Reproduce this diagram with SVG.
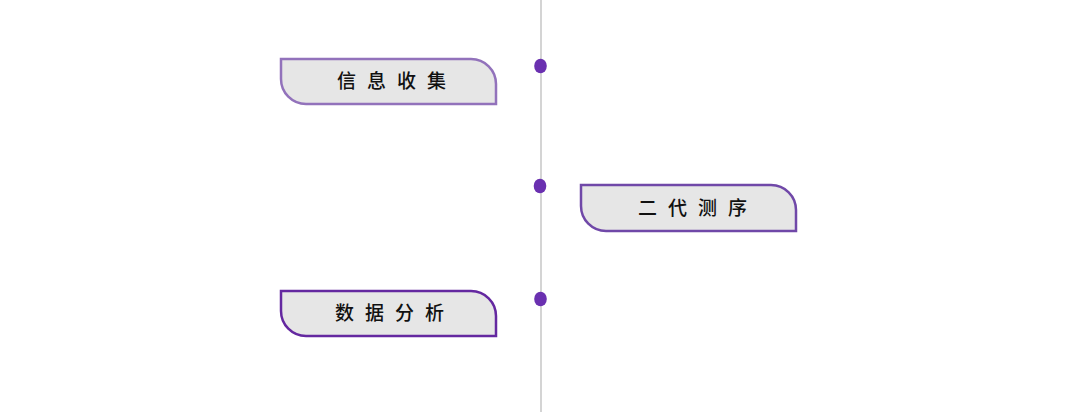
<svg xmlns="http://www.w3.org/2000/svg" width="1080" height="412" viewBox="0 0 1080 412">
<style>
.box{fill:#e6e6e6;stroke-width:2.5}
.lbl{font-family:"Noto Sans CJK SC","Noto Sans",sans-serif;font-size:19px;font-weight:500;fill:#111;letter-spacing:11px}
.dot{fill:#6a30b0}
</style>
<rect width="1080" height="412" fill="#ffffff"/>
<g id="connectors">
<line x1="541" y1="0" x2="541" y2="412" stroke="#d4d4d4" stroke-width="2"/>
</g>
<g id="dot1"><ellipse class="dot" cx="540.5" cy="66" rx="6.3" ry="7.3"/></g>
<g id="dot2"><ellipse class="dot" cx="540" cy="186" rx="6.3" ry="7.3"/></g>
<g id="dot3"><ellipse class="dot" cx="540.5" cy="299" rx="6.3" ry="7.3"/></g>
<g id="node1">
<path class="box" stroke="#9272bb" d="M281,59 H471 A25,25 0 0 1 496,84 V104 H306 A25,25 0 0 1 281,79 Z"/>
<text class="lbl" x="337" y="88">信息收集</text>
</g>
<g id="node2">
<path class="box" stroke="#7048a8" d="M581,185 H771 A25,25 0 0 1 796,210 V231 H606 A25,25 0 0 1 581,206 Z"/>
<text class="lbl" x="638" y="215">二代测序</text>
</g>
<g id="node3">
<path class="box" stroke="#6428a0" d="M281,291 H471 A25,25 0 0 1 496,316 V336 H306 A25,25 0 0 1 281,311 Z"/>
<text class="lbl" x="335" y="320">数据分析</text>
</g>
</svg>
